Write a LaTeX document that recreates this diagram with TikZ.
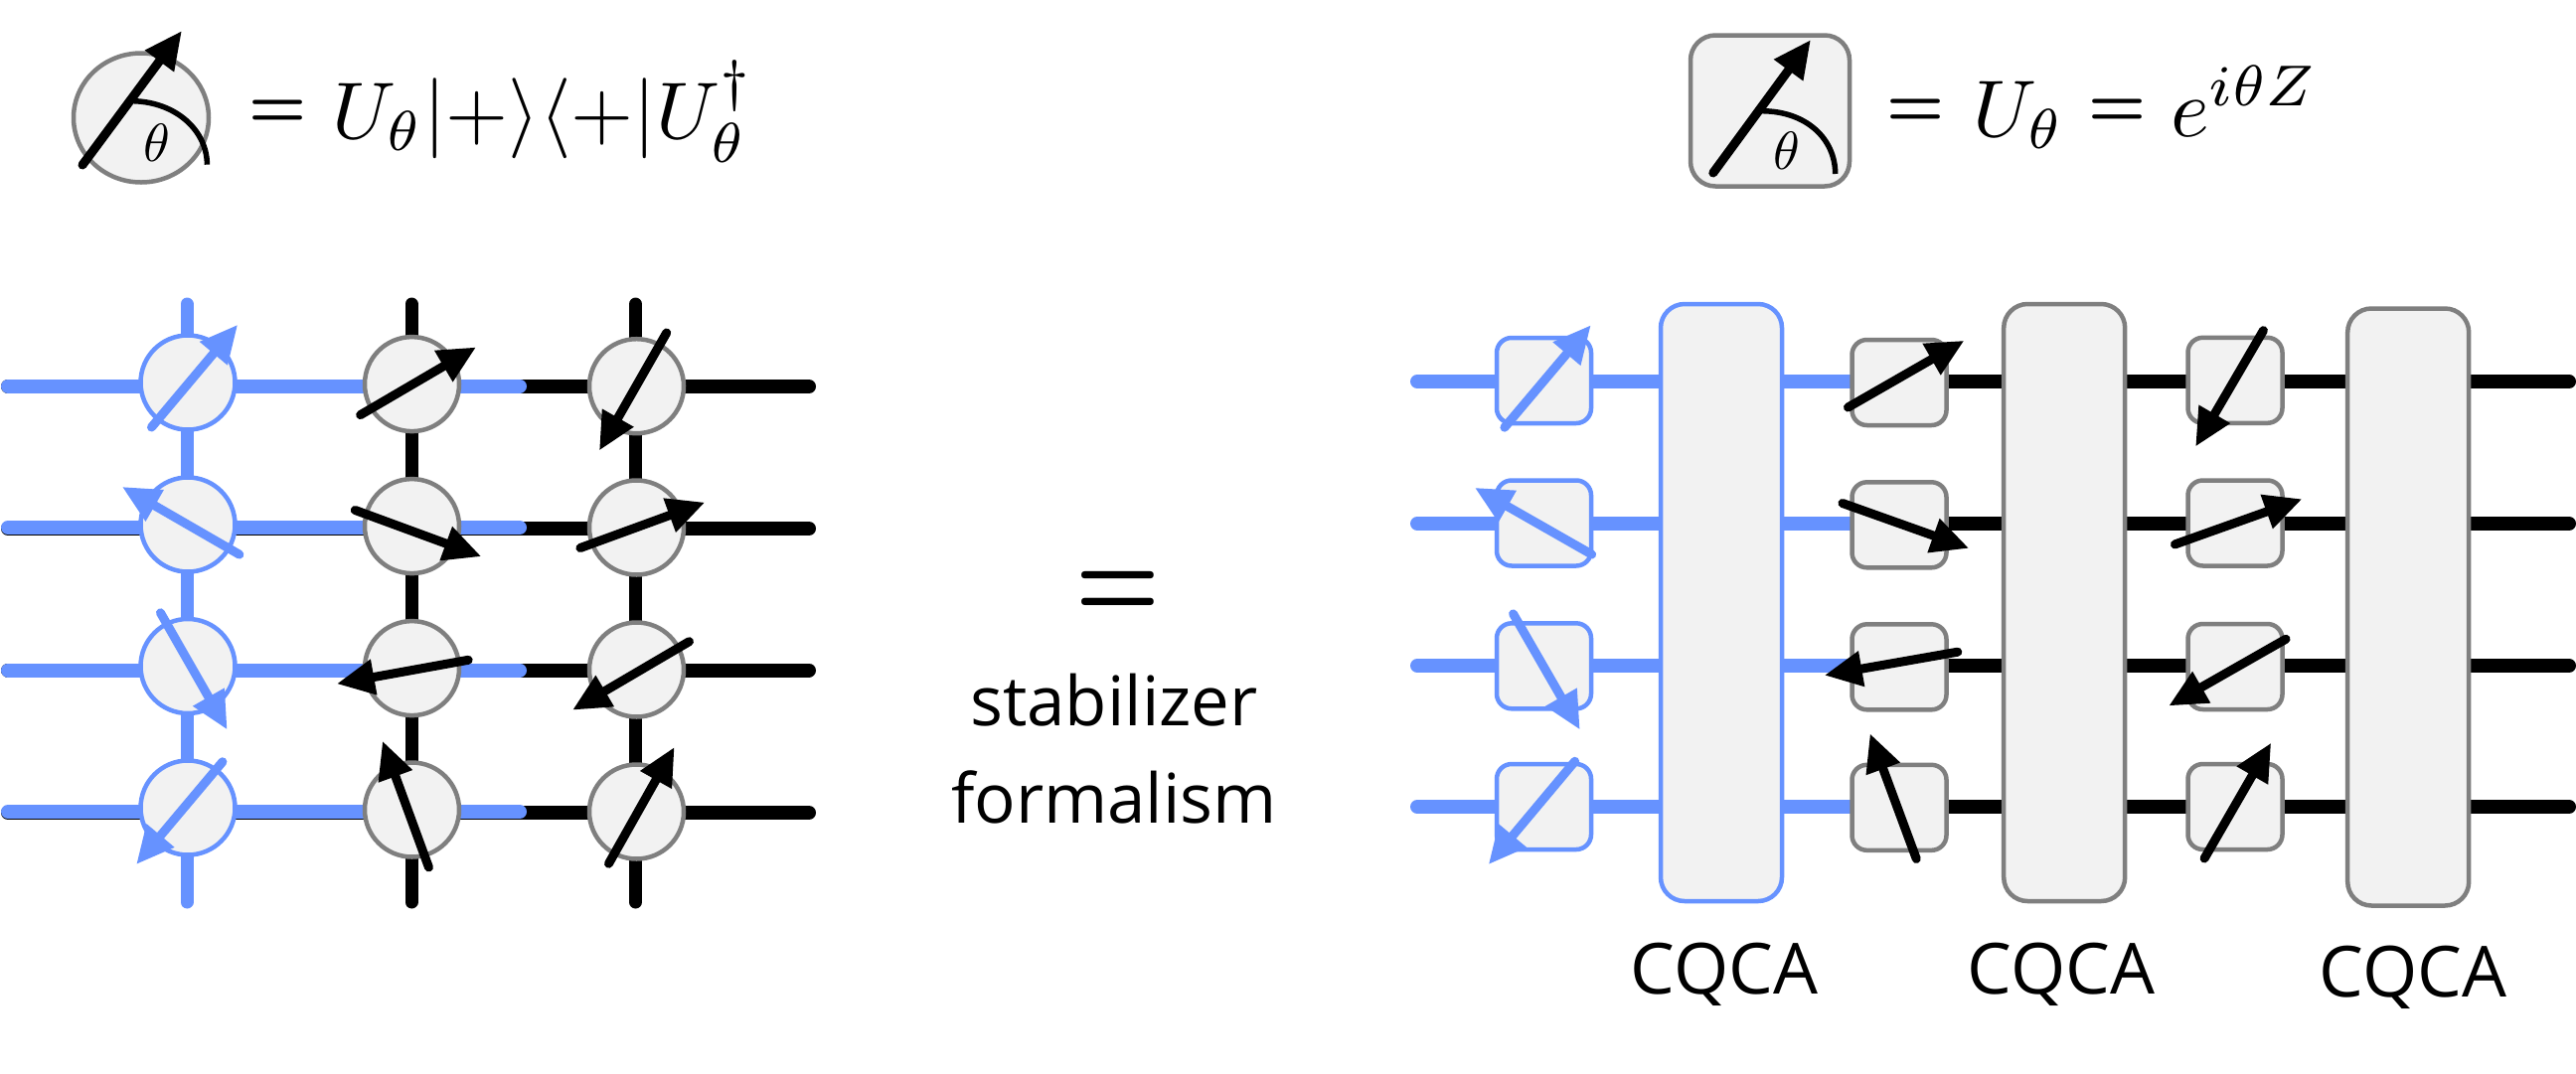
\documentclass[tikz,border=0pt]{standalone}
\usepackage{graphicx}
\usepackage{fontspec}
\setmainfont{Open Sans}
\usetikzlibrary{arrows.meta,shapes.geometric}
\definecolor{qblue}{RGB}{102,146,255}
\definecolor{qgray}{RGB}{127,127,127}
\definecolor{qfill}{RGB}{242,242,242}
\tikzset{
  wire/.style={line width=14pt,line cap=round},
  vwire/.style={line width=13pt,line cap=round},
  spin/.style={line width=9pt,line cap=round,-{Triangle[length=38pt,width=34pt]}},
  anglearc/.style={line width=5.5pt},
  qubit/.style={circle,draw=#1,fill=qfill,line width=4.5pt,minimum size=95pt,inner sep=0pt,outer sep=0pt},
  gatebox/.style={rectangle,rounded corners=15pt,draw=#1,fill=qfill,line width=4.5pt,inner sep=0pt,outer sep=0pt,minimum width=95pt,minimum height=86pt},
  cqca/.style={rectangle,rounded corners=24pt,draw=#1,fill=qfill,line width=4.5pt,inner sep=0pt,outer sep=0pt,minimum width=122pt,minimum height=601pt},
  bigtext/.style={anchor=base,inner sep=0pt,font=\fontsize{69}{80}\selectfont},
  cqcatext/.style={anchor=base,inner sep=0pt,font=\fontsize{71}{80}\selectfont},
  formula/.style={anchor=base west,inner sep=0pt},
  eqsign/.style={inner sep=0pt},
  smalltheta/.style={inner sep=0pt},
}
\newcommand{\bigmath}[2]{\scalebox{#1}{$#2$}}
\newcommand{\boldeq}[2]{\scalebox{#1}[#2]{\boldmath$=$}}
% spin arrow between two named coordinates
\newcommand{\spinarrow}[4]{%
  \coordinate (#1-t) at (#2);
  \coordinate (#1-h) at (#3);
  \draw[spin,draw=#4,fill=#4] (#1-t) -- (#1-h);}
\newcommand{\lspin}[6]{\spinarrow{#1}{{#2/1.889},{280+#3/2.42}}{{#4/1.889},{280+#5/2.42}}{#6}}
\newcommand{\rspin}[6]{\spinarrow{#1}{{1400+#2/2.529},{290+#3/2.425}}{{1400+#4/2.529},{290+#5/2.425}}{#6}}
\newcommand{\sspin}[6]{\spinarrow{#1}{{1980+#2/2.562},{290+#3/1.993}}{{1980+#4/2.562},{290+#5/1.993}}{#6}}
\begin{document}
\begin{tikzpicture}[x=1pt,y=-1pt]
\fill[white] (0,0) rectangle (2592,1080);
\useasboundingbox (0,0) rectangle (2592,1080);

% ---------- top left legend
\node[ellipse,draw=qgray,fill=qfill,line width=4.5pt,minimum width=136pt,minimum height=130pt,inner sep=0pt,outer sep=0pt] (legcirc) at (142,118.5) {};
\coordinate (legarcA) at (134.4,101.7);
\coordinate (legarcB) at (208.4,165.7);
\draw[anglearc] (legarcA) .. controls (178,103) and (208.4,132) .. (legarcB);
\spinarrow{legcircarrow}{83,166}{183,31}{black}
\node[smalltheta] (legcirctheta) at (158,144) {\bigmath{5.4}{\theta}};
\node[eqsign] (legcirceqa) at (280,115) {\boldeq{6.5}{7}};
\node[formula] (legcirceq) at (334,139) {\bigmath{8.1}{U_\theta|{+}\rangle\langle{+}|U_\theta^\dagger}};

% ---------- top right legend
\node[gatebox=qgray,rounded corners=25pt,minimum width=160pt,minimum height=152pt] (legbox) at (1781,111.5) {};
\coordinate (legbarcA) at (1773,111.7);
\coordinate (legbarcB) at (1846.7,175);
\draw[anglearc] (legbarcA) .. controls (1818,112) and (1846.7,140) .. (legbarcB);
\spinarrow{legboxarrow}{1723.8,174}{1822,40}{black}
\node[smalltheta] (legboxtheta) at (1797.8,152) {\bigmath{5.4}{\theta}};
\node[eqsign] (legboxeqa) at (1927.5,114) {\boldeq{6.5}{7}};
\node[formula] (legboxu) at (1985,137) {\bigmath{8.1}{U_\theta}};
\node[eqsign] (legboxeqb) at (2130.5,114) {\boldeq{6.5}{7}};
\node[formula] (legboxexp) at (2184,137) {\bigmath{8.3}{e^{i\theta Z}}};

% ---------- left grid wires
\foreach \n/\y in {1/389,2/532,3/674.5,4/818}{
  \coordinate (hl\n) at (8,\y);
  \coordinate (hr\n) at (814,\y);
  \draw[wire,black] (hl\n) -- (hr\n);
}
\foreach \n/\y in {1/388.5,2/531,3/674.5,4/817}{
  \coordinate (hbl\n) at (8,\y);
  \coordinate (hbm\n) at (523,\y);
  \draw[wire,qblue] (hbl\n) -- (hbm\n);
}
\foreach \c/\x/\col in {1/188/qblue,2/414/black,3/639.5/black}{
  \coordinate (vt\c) at (\x,306);
  \coordinate (vb\c) at (\x,908);
  \draw[vwire,\col] (vt\c) -- (vb\c);
}
% ---------- left grid qubits
\foreach \r/\y in {1/385,2/528,3/670.5,4/813}{
  \node[qubit=qblue] (qa\r) at (189,\y) {};
}
\foreach \r/\y in {1/386.6,2/529.6,3/672.6,4/815}{
  \node[qubit=qgray] (qb\r) at (414.5,\y) {};
}
\foreach \r/\y in {1/388.7,2/531,3/674,4/817}{
  \node[qubit=qgray] (qc\r) at (640.5,\y) {};
}
\lspin{la1}{288}{363}{452}{113}{qblue}
\lspin{la2}{455}{673}{232}{508}{qblue}
\lspin{la3}{305}{815}{432}{1100}{qblue}
\lspin{la4}{423}{1178}{259}{1428}{qblue}
\lspin{lb1}{685}{333}{905}{168}{black}
\lspin{lb2}{675}{565}{915}{678}{black}
\lspin{lb3}{890}{930}{640}{988}{black}
\lspin{lb4}{815}{1435}{727}{1127}{black}
\lspin{lc1}{1267}{133}{1139}{420}{black}
\lspin{lc2}{1103}{657}{1340}{546}{black}
\lspin{lc3}{1310}{885}{1088}{1052}{black}
\lspin{lc4}{1157}{1426}{1282}{1142}{black}

% ---------- centre
\node[eqsign] (bigeq) at (1125,599) {\boldeq{9.5}{12}};
\node[bigtext] (stab) at (1121,730) {stabilizer};
\node[bigtext] (form) at (1121,828) {formalism};

% ---------- right circuit wires
\foreach \n/\y in {1/384,2/527,3/670,4/812}{
  \coordinate (cl\n) at (1426,\y);
  \coordinate (cm\n) at (1866,\y);
  \coordinate (cr\n) at (2585,\y);
  \draw[wire,black] (cm\n) -- (cr\n);
  \draw[wire,qblue] (cl\n) -- (cm\n);
}
% ---------- boxes
\foreach \r/\y in {1/383,2/526.5,3/670.3,4/812}{
  \node[gatebox=qblue] (ga\r) at (1553.5,\y) {};
}
\foreach \r/\y in {1/385,2/528.3,3/671.3,4/812.8}{
  \node[gatebox=qgray] (gb\r) at (1911,\y) {};
}
\foreach \r/\y in {1/382.8,2/526.5,3/671,4/812}{
  \node[gatebox=qgray] (gc\r) at (2249,\y) {};
}
\node[cqca=qblue] (ca) at (1732,606.5) {};
\node[cqca=qgray] (cb) at (2077.2,606.5) {};
\node[cqca=qgray] (cc) at (2423.2,611) {};
\rspin{ra1}{288}{340}{508}{90}{qblue}
\rspin{ra2}{510}{650}{212}{487}{qblue}
\rspin{ra3}{310}{795}{480}{1078}{qblue}
\rspin{ra4}{467}{1155}{247}{1407}{qblue}
\rspin{rb1}{1162}{291}{1458}{128}{black}
\rspin{rb2}{1148}{525}{1470}{635}{black}
\rspin{rb3}{1441}{888}{1102}{945}{black}
\rspin{rb4}{1336}{1393}{1218}{1087}{black}
\sspin{rc1}{762}{85}{587}{318}{black}
\sspin{rc2}{534}{514}{862}{423}{black}
\sspin{rc3}{820}{704}{518}{838}{black}
\sspin{rc4}{610}{1144}{782}{912}{black}
\node[cqcatext] (la) at (1735,1000) {CQCA};
\node[cqcatext] (lb) at (2074,1000) {CQCA};
\node[cqcatext] (lc) at (2428,1003.5) {CQCA};
\end{tikzpicture}
\end{document}
